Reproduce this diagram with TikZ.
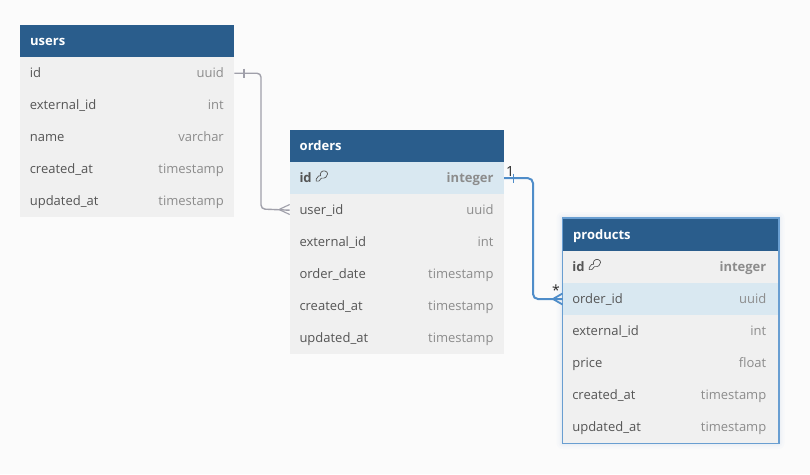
\documentclass[tikz,border=0pt]{standalone}
\usepackage{fontspec}
\setmainfont{Open Sans}
\usetikzlibrary{calc}
\definecolor{bgc}{HTML}{FBFBFB}
\definecolor{headc}{HTML}{2A5D8C}
\definecolor{rowc}{HTML}{F0F0F0}
\definecolor{hic}{HTML}{D9E8F1}
\definecolor{namec}{HTML}{555555}
\definecolor{typec}{HTML}{8C8C8C}
\definecolor{edgeb}{HTML}{4F8DC9}
\definecolor{edgeg}{HTML}{A0A0AA}
\tikzset{
  x=1pt,y=-1pt,
  headbox/.style={fill=headc,draw=none,minimum width=214pt,minimum height=32pt,inner sep=0pt,anchor=north west},
  rowbox/.style={fill=rowc,draw=none,minimum width=214pt,minimum height=32pt,inner sep=0pt,anchor=north west},
  hibox/.style={rowbox,fill=hic},
  headtxt/.style={text=white,font=\fontsize{13}{15}\selectfont\bfseries,anchor=base west,inner sep=0pt},
  nametxt/.style={text=namec,font=\fontsize{13}{15}\selectfont,anchor=base west,inner sep=0pt},
  typetxt/.style={text=typec,font=\fontsize{13}{15}\selectfont,anchor=base east,inner sep=0pt},
  greyline/.style={draw=edgeg,line width=1.4pt,rounded corners=4pt},
  blueline/.style={draw=edgeb,line width=2pt,rounded corners=5pt},
  keyicon/.style={draw=namec,line width=0.7pt,fill=none},
  cardtxt/.style={text=black!85,font=\fontsize{14}{16}\selectfont,inner sep=0pt},
}
% \dbrow{table}{field}{x}{y}{box style}{label}{type}{extra font}
\newcommand{\dbrow}[8]{%
  \node[#5] (#1-#2) at (#3,#4) {};
  \node[nametxt,font=\fontsize{13}{15}\selectfont#8] (#1-#2-n) at (#3+9.6,#4+20.5) {#6};
  \node[typetxt,font=\fontsize{13}{15}\selectfont#8] (#1-#2-t) at (#3+204,#4+20.5) {#7};
}
\newcommand{\dbkey}[2]{%
  \draw[keyicon] (#1+2.5,#2+3.5) -- (#1+0.3,#2+6.5) -- (#1+0.3,#2+8.6) -- (#1+2.8,#2+8.6) -- (#1+5.5,#2+5.6)
    .. controls (#1+9,#2+6.3) and (#1+11.6,#2+4) .. (#1+11.6,#2+1.4)
    .. controls (#1+11.6,#2-1.5) and (#1+7,#2-2.8) .. (#1+5.2,#2-0.4)
    .. controls (#1+4.2,#2+0.8) and (#1+4,#2+2.2) .. (#1+4.6,#2+3.2) -- cycle;
}
\begin{document}
\begin{tikzpicture}
\useasboundingbox (0,0) rectangle (810,474);
\fill[bgc] (0,0) rectangle (810,474);

% users
\node[headbox] (users-head) at (20,25) {};
\node[headtxt] (users-title) at (30,45) {users};
\dbrow{users}{id}{20}{57}{rowbox}{id}{uuid}{}
\dbrow{users}{external}{20}{89}{rowbox}{external\_id}{int}{}
\dbrow{users}{name}{20}{121}{rowbox}{name}{varchar}{}
\dbrow{users}{created}{20}{153}{rowbox}{created\_at}{timestamp}{}
\dbrow{users}{updated}{20}{185}{rowbox}{updated\_at}{timestamp}{}

% orders
\node[headbox] (orders-head) at (289.7,130) {};
\node[headtxt] (orders-title) at (299.5,150) {orders};
\dbrow{orders}{id}{289.7}{162}{hibox}{id}{integer}{\bfseries}
\dbkey{316}{172.5}
\dbrow{orders}{user}{289.7}{194}{rowbox}{user\_id}{uuid}{}
\dbrow{orders}{external}{289.7}{226}{rowbox}{external\_id}{int}{}
\dbrow{orders}{date}{289.7}{258}{rowbox}{order\_date}{timestamp}{}
\dbrow{orders}{created}{289.7}{290}{rowbox}{created\_at}{timestamp}{}
\dbrow{orders}{updated}{289.7}{322}{rowbox}{updated\_at}{timestamp}{}

% products halo
\foreach \g/\o in {6/0.02,4/0.025,2.5/0.03,1.2/0.04}{
  \fill[edgeb,opacity=\o,rounded corners=\g pt] (562.5-\g,218-\g) rectangle (778.5+\g,443+\g);
}
% products
\node[headbox,minimum width=216pt,minimum height=33pt] (products-head) at (562.5,218) {};
\node[headtxt] (products-title) at (573,239) {products};
\dbrow{products}{id}{562.5}{251}{rowbox,minimum width=216pt}{id}{integer}{\bfseries}
\dbkey{589}{261}
\dbrow{products}{order}{562.5}{283}{hibox,minimum width=216pt}{order\_id}{uuid}{}
\dbrow{products}{external}{562.5}{315}{rowbox,minimum width=216pt}{external\_id}{int}{}
\dbrow{products}{price}{562.5}{347}{rowbox,minimum width=216pt}{price}{float}{}
\dbrow{products}{created}{562.5}{379}{rowbox,minimum width=216pt}{created\_at}{timestamp}{}
\dbrow{products}{updated}{562.5}{411}{rowbox,minimum width=216pt}{updated\_at}{timestamp}{}
\draw[edgeb!85!white,line width=1.2pt] (products-head.north west) rectangle (products-updated.south east);

% connectors
\draw[greyline] (users-id.east) -| (261,209) -- (orders-user.west);
\draw[edgeg,line width=1.1pt] (244,68.5) -- (244,77.5);
\draw[edgeg,line width=1.1pt] (289.7,204.5) -- (279,209.5) -- (289.7,214.5);

\draw[blueline] (orders-id.east) -| (533,299) -- (products-order.west);
\draw[edgeb,line width=1.3pt] (513.5,173.5) -- (513.5,182.5);
\draw[edgeb,line width=1.8pt] (562.5,293.5) -- (553,299) -- (562.5,304.5);
\node[cardtxt] (card-one) at (510,171) {1};
\node[cardtxt] (card-many) at (556,290) {*};
\end{tikzpicture}
\end{document}
